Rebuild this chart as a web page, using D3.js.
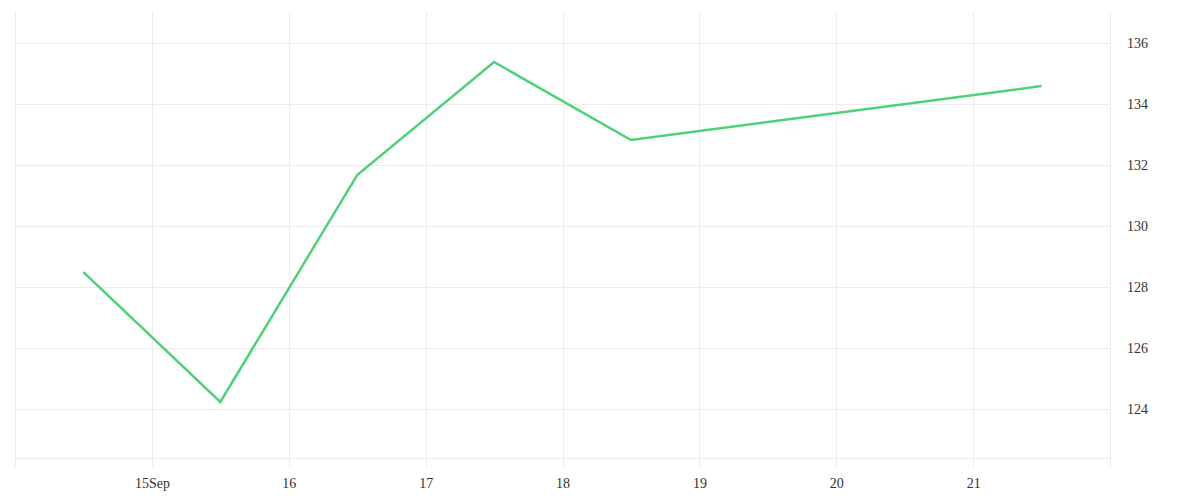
<!DOCTYPE html>
<html>
<head>
<meta charset="utf-8">
<script src="https://cdn.jsdelivr.net/npm/d3@7"></script>
<style>
  body { margin: 0; background: #fff; }
  .axis text { font-family: "Liberation Serif", "DejaVu Serif", serif; font-size: 14px; fill: #333; }
  .axis path { display: none; }
  .grid line { stroke: #ececec; stroke-width: 1; }
  .grid path { display: none; }
</style>
</head>
<body>
<div id="chart"></div>
<script>
// data: prices sampled at midday
var dates = ["2023-09-14T12:00", "2023-09-15T12:00", "2023-09-16T12:00",
             "2023-09-17T12:00", "2023-09-18T12:00", "2023-09-21T12:00"];
var values = [128.49, 124.23, 131.67, 135.38, 132.82, 134.59];
var yTicks = [124, 126, 128, 130, 132, 134, 136];
var xTickDates = ["2023-09-15", "2023-09-16", "2023-09-17", "2023-09-18",
                  "2023-09-19", "2023-09-20", "2023-09-21"];

function drawChart() {
  var W = 1200, H = 500;
  var margin = { top: 12, right: 90, bottom: 42, left: 15 };
  var width = W - margin.left - margin.right;
  var height = H - margin.top - margin.bottom;

  var parse = d3.timeParse("%Y-%m-%dT%H:%M");
  var parseDay = d3.timeParse("%Y-%m-%d");
  var data = dates.map((d, i) => ({ date: parse(d), value: values[i] }));
  var xTicks = xTickDates.map(parseDay);

  var svg = d3.select("#chart").append("svg")
    .attr("width", W).attr("height", H)
    .append("g")
    .attr("transform", "translate(" + margin.left + "," + margin.top + ")");

  var x = d3.scaleTime()
    .domain([parseDay("2023-09-14"), parseDay("2023-09-22")])
    .range([0, width]);

  var y = d3.scaleLinear()
    .domain([122.39, 137.02])
    .range([height, 0]);

  // vertical grid (incl. edges), extends below as ticks
  var vLines = [x.domain()[0]].concat(xTicks, [x.domain()[1]]);
  svg.append("g").attr("class", "grid")
    .selectAll("line").data(vLines).enter().append("line")
    .attr("x1", d => Math.round(x(d)) + 0.5)
    .attr("x2", d => Math.round(x(d)) + 0.5)
    .attr("y1", 0).attr("y2", height + 9);

  // horizontal grid
  svg.append("g").attr("class", "grid")
    .selectAll("line").data(yTicks).enter().append("line")
    .attr("x1", 0).attr("x2", width)
    .attr("y1", d => Math.round(y(d)) + 0.5)
    .attr("y2", d => Math.round(y(d)) + 0.5);

  svg.append("g").attr("class", "grid").append("line")
    .attr("x1", 0).attr("x2", width)
    .attr("y1", height + 0.5).attr("y2", height + 0.5);

  // x axis labels
  var fmt = d => d.getDate() === 15 ? "15Sep" : d3.timeFormat("%-d")(d);
  svg.append("g").attr("class", "axis")
    .attr("transform", "translate(0," + height + ")")
    .call(d3.axisBottom(x).tickValues(xTicks).tickFormat(fmt).tickSize(0).tickPadding(20));

  // y axis labels on right
  svg.append("g").attr("class", "axis")
    .attr("transform", "translate(" + width + ",0)")
    .call(d3.axisRight(y).tickValues(yTicks).tickSize(0).tickPadding(17));

  var line = d3.line()
    .x(d => x(d.date))
    .y(d => y(d.value));

  svg.append("path")
    .datum(data)
    .attr("fill", "none")
    .attr("stroke", "#4cd37a")
    .attr("stroke-width", 2.5)
    .attr("d", line);
}

window.onload = drawChart;
</script>
</body>
</html>
